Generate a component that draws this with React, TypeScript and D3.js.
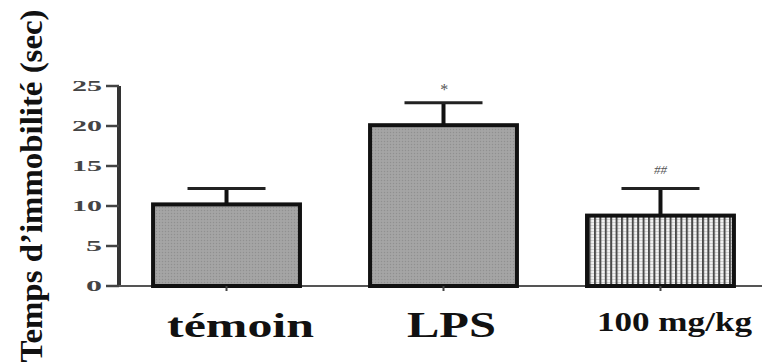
import React from 'react';
import * as d3 from 'd3';

const groups = ['témoin', 'LPS', '100 mg/kg'];
const means = [10.2, 20.1, 8.8];
const sems = [2.0, 2.8, 3.4];
const marks = ['', '*', '##'];
const yTicks = [0, 5, 10, 15, 20, 25];

const W = 762;
const H = 364;

const App = () => {
  const x = d3.scaleBand<string>()
    .domain(groups)
    .range([119, 768])
    .paddingInner(0.323)
    .paddingOuter(0.157);
  const y = d3.scaleLinear().domain([0, 25]).range([286, 86]);

  const serif = "'Liberation Serif', 'Times New Roman', Times, serif";

  // label placement in the source figure (slightly right of bar centers)
  const labelStyle = [
    { dx: 14, y: 337, size: 33, len: 147 },
    { dx: 8, y: 337, size: 35, len: 89 },
    { dx: 14, y: 331, size: 28, len: 155 },
  ];

  return (
    <svg width={W} height={H} style={{ position: 'absolute', left: 0, top: 0, background: '#fff' }}>
      <defs>
        <pattern id="dots" width="3" height="3" patternUnits="userSpaceOnUse">
          <rect width="3" height="3" fill="#a2a2a2" />
          <rect width="1" height="1" fill="#909090" />
          <rect x="1.5" y="1.5" width="1" height="1" fill="#b0b0b0" />
        </pattern>
        <pattern id="stripes" width="5.4" height="3" patternUnits="userSpaceOnUse">
          <rect width="5.4" height="3" fill="#f2f2f2" />
          <rect width="5.4" height="1" fill="#cfcfcf" />
          <rect x="0" width="2" height="3" fill="#4a4a4a" />
        </pattern>
      </defs>

      {/* y axis */}
      <line x1={119} x2={119} y1={y(25)} y2={y(0)} stroke="#333" strokeWidth={4} />
      {yTicks.map(t => (
        <g key={t}>
          <line x1={106} x2={119} y1={y(t)} y2={y(t)} stroke="#444" strokeWidth={2.5} />
          <text
            x={102}
            y={y(t) + 4.5}
            textAnchor="end"
            style={{ fontFamily: serif, fontWeight: 700, fontSize: 14 }}
            fill="#444"
            textLength={String(t).length * 14 + 2}
            lengthAdjust="spacingAndGlyphs"
          >
            {t}
          </text>
        </g>
      ))}

      {/* baseline */}
      <line x1={119} x2={W} y1={y(0)} y2={y(0)} stroke="#555" strokeWidth={2} />

      {groups.map((g, i) => {
        const x0 = x(g) as number;
        const bw = x.bandwidth();
        const cx = x0 + bw / 2;
        const top = y(means[i]);
        const errTop = y(means[i] + sems[i]);
        const ls = labelStyle[i];
        return (
          <g key={g}>
            <rect
              x={x0}
              y={top}
              width={bw}
              height={y(0) - top}
              fill={i === 2 ? 'url(#stripes)' : 'url(#dots)'}
              stroke="#111"
              strokeWidth={4}
            />
            <line x1={cx} x2={cx} y1={errTop} y2={top} stroke="#111" strokeWidth={4} />
            <line x1={cx - 39} x2={cx + 39} y1={errTop} y2={errTop} stroke="#222" strokeWidth={3} />
            <line x1={cx} x2={cx} y1={y(0)} y2={y(0) + 5} stroke="#444" strokeWidth={2} />
            {marks[i] && (
              <text
                x={cx}
                y={errTop - (i === 1 ? 8 : 14)}
                textAnchor="middle"
                style={{ fontFamily: serif, fontStyle: 'italic', fontSize: i === 1 ? 16 : 13 }}
                fill="#555"
              >
                {marks[i]}
              </text>
            )}
            <text
              x={cx + ls.dx}
              y={ls.y}
              textAnchor="middle"
              style={{ fontFamily: serif, fontWeight: 700, fontSize: ls.size }}
              fill="#111"
              textLength={ls.len}
              lengthAdjust="spacingAndGlyphs"
            >
              {g}
            </text>
          </g>
        );
      })}

      {/* y axis title */}
      <text
        transform="translate(42,186) rotate(-90)"
        textAnchor="middle"
        style={{ fontFamily: serif, fontWeight: 700, fontSize: 32 }}
        fill="#111"
        textLength={353}
        lengthAdjust="spacingAndGlyphs"
      >
        Temps d’immobilité (sec)
      </text>
    </svg>
  );
};

export default App;
